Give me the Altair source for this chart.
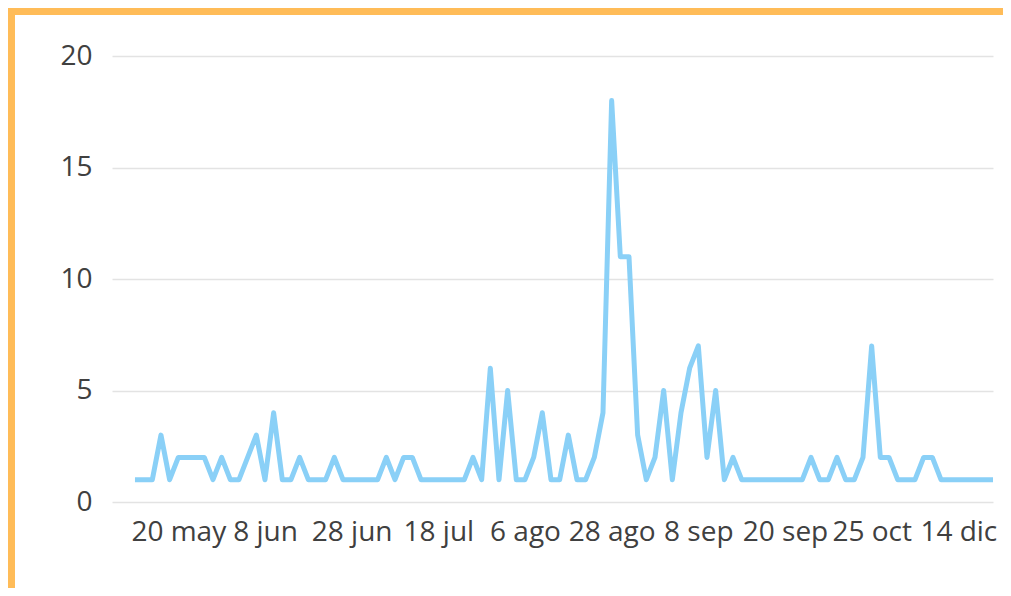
import altair as alt
import pandas as pd

# daily counts, one per category position (0..99)
counts = [
    1, 1, 1, 3, 1, 2, 2, 2, 2, 1,
    2, 1, 1, 2, 3, 1, 4, 1, 1, 2,
    1, 1, 1, 2, 1, 1, 1, 1, 1, 2,
    1, 2, 2, 1, 1, 1, 1, 1, 1, 2,
    1, 6, 1, 5, 1, 1, 2, 4, 1, 1,
    3, 1, 1, 2, 4, 18, 11, 11, 3, 1,
    2, 5, 1, 4, 6, 7, 2, 5, 1, 2,
    1, 1, 1, 1, 1, 1, 1, 1, 2, 1,
    1, 2, 1, 1, 2, 7, 2, 2, 1, 1,
    1, 2, 2, 1, 1, 1, 1, 1, 1, 1,
]
tick_index = [5, 15, 25, 35, 45, 55, 65, 75, 85, 95]
tick_labels = ["20 may", "8 jun", "28 jun", "18 jul", "6 ago",
               "28 ago", "8 sep", "20 sep", "25 oct", "14 dic"]
y_ticks = [0, 5, 10, 15, 20]

df = pd.DataFrame({"idx": list(range(len(counts))), "count": counts})

expr = " : ".join(f"datum.value == {i} ? '{t}'" for i, t in zip(tick_index, tick_labels)) + " : ''"

W, H = 881, 446
PL, PT, PR, PB = 104, 48, 10, 86
FONT = "Open Sans"
ORANGE = "#FFBC58"

one = pd.DataFrame({"k": [0]})

top_strip = alt.Chart(one).mark_rect(color=ORANGE).encode(
    x=alt.value(-PL), x2=alt.value(W + PR), y=alt.value(-PT), y2=alt.value(-PT + 7)
)
left_strip = alt.Chart(one).mark_rect(color=ORANGE).encode(
    x=alt.value(-PL), x2=alt.value(-PL + 7), y=alt.value(-PT), y2=alt.value(H + PB)
)

line = alt.Chart(df).mark_line(color="#8AD0F7", strokeWidth=5, strokeJoin="round").encode(
    x=alt.X("idx:Q", scale=alt.Scale(domain=[-2.65, 99], nice=False, zero=False),
            axis=alt.Axis(values=tick_index, labelExpr=expr, grid=False, domain=False,
                          ticks=False, labelOverlap=False, labelFlush=False,
                          labelFontSize=28, labelFont=FONT, labelColor="#404040",
                          labelPadding=16, title=None)),
    y=alt.Y("count:Q", scale=alt.Scale(domain=[0, 20], nice=False),
            axis=alt.Axis(values=y_ticks, grid=True, gridColor="#e3e3e3", gridWidth=1.5,
                          domain=False, ticks=False, labelFontSize=28, labelFont=FONT,
                          labelColor="#404040", labelPadding=20, title=None)),
)

chart = alt.layer(top_strip, left_strip, line).properties(
    width=W, height=H,
    autosize=alt.AutoSizeParams(type="none"),
    padding={"left": PL, "top": PT, "right": PR, "bottom": PB},
    background="white",
).configure_view(stroke=None)

chart.save("out.html", embed_options={"renderer": "svg", "actions": False})
